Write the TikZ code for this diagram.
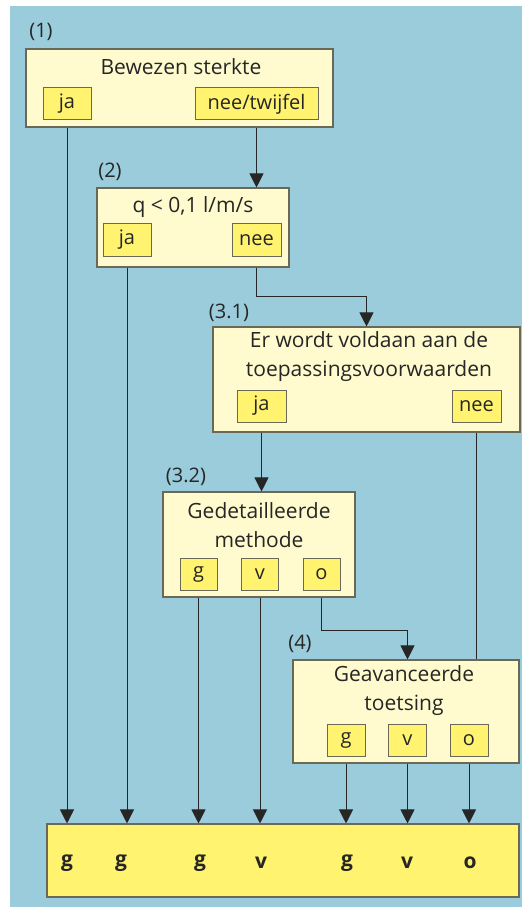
\documentclass[tikz,border=0pt]{standalone}
\usepackage{fontspec}
\setmainfont{Open Sans}
\usetikzlibrary{arrows.meta,calc}
\definecolor{bgblue}{RGB}{154,204,219}
\definecolor{paleyellow}{RGB}{255,251,206}
\definecolor{answeryellow}{RGB}{255,243,112}
\definecolor{framegray}{RGB}{105,105,85}
\definecolor{inkgray}{RGB}{38,38,38}

\begin{document}
\begin{tikzpicture}[x=1pt, y=-1pt,
    stepframe/.style={draw=framegray, line width=1.1pt, fill=paleyellow,
      inner sep=0pt},
    answer/.style={draw=framegray, line width=1pt, fill=answeryellow,
      inner sep=0pt, minimum height=32pt, text=inkgray,
      font=\fontsize{20}{24}\selectfont},
    caption/.style={text=inkgray, align=center, inner sep=0pt,
      font=\fontsize{21}{29}\selectfont},
    numlabel/.style={text=inkgray, inner sep=0pt,
      font=\fontsize{20}{24}\selectfont},
    outcome/.style={text=inkgray, inner sep=0pt,
      font=\fontsize{21}{24}\selectfont\bfseries},
    flow/.style={draw=inkgray, line width=1pt},
    arrowflow/.style={flow, -{Triangle[length=14pt, width=14pt]}}]

  % Background
  \useasboundingbox (0,0) rectangle (522,909);
  \fill[white] (0,0) rectangle (522,909);
  \fill[bgblue] (10,6) rectangle (522,907);

  % Step (1)
  \node[stepframe, minimum width=307pt, minimum height=78pt] (box1) at (179.5,88) {};
  \node[numlabel] (lab1) at (41,32) {(1)};
  \node[caption] (title1) at (181,67) {Bewezen sterkte};
  \node[answer, minimum width=48pt] (ja1) at (67,104) {ja};
  \node[answer, minimum width=123pt] (nee1) at (256.5,104) {nee/twijfel};

  % Step (2)
  \node[stepframe, minimum width=192pt, minimum height=79pt] (box2) at (193,227.5) {};
  \node[numlabel] (lab2) at (110,172) {(2)};
  \node[caption] (title2) at (193,207) {q < 0,1 l/m/s};
  \node[answer, minimum width=48pt] (ja2) at (127,240) {ja};
  \node[answer, minimum width=49pt] (nee2) at (256.5,240) {nee};

  % Step (3.1)
  \node[stepframe, minimum width=307pt, minimum height=105pt] (box31) at (366.5,379.5) {};
  \node[numlabel] (lab31) at (229,313) {(3.1)};
  \node[caption] (title31) at (369,356.5) {Er wordt voldaan aan de\\toepassingsvoorwaarden};
  \node[answer, minimum width=49pt] (ja31) at (261.5,406) {ja};
  \node[answer, minimum width=49pt] (nee31) at (476.5,406) {nee};

  % Step (3.2)
  \node[stepframe, minimum width=192pt, minimum height=105pt] (box32) at (259,544.5) {};
  \node[numlabel] (lab32) at (186,477) {(3.2)};
  \node[caption] (title32) at (259,525) {Gedetailleerde\\methode};
  \node[answer, minimum width=37pt] (g32) at (198.5,574) {g};
  \node[answer, minimum width=37pt] (v32) at (260,574) {v};
  \node[answer, minimum width=37pt] (o32) at (321.5,574) {o};

  % Step (4)
  \node[stepframe, minimum width=226pt, minimum height=103pt] (box4) at (406,711.5) {};
  \node[numlabel] (lab4) at (300,644) {(4)};
  \node[caption] (title4) at (404,691) {Geavanceerde\\toetsing};
  \node[answer, minimum width=38pt] (g4) at (346,740) {g};
  \node[answer, minimum width=38pt] (v4) at (407.5,740) {v};
  \node[answer, minimum width=38pt] (o4) at (469,740) {o};

  % Outcome bar
  \node[draw=framegray, line width=1.1pt, fill=answeryellow, inner sep=0pt,
    minimum width=472pt, minimum height=73pt] (result) at (283,860.5) {};
  \foreach \x/\r [count=\i] in {67/g, 121/g, 200/g, 261/v, 347/g, 407/v, 470/o} {
    \node[outcome] (res\i) at (\x,863) {\r};
  }

  % Connectors between steps
  \draw[arrowflow] (nee1.south |- box1.south) -- (nee1.south |- box2.north);
  \draw[arrowflow] (nee2.south |- box2.south) -- ++(0,29) -| (box31.north);
  \draw[arrowflow] (ja31.south |- box31.south) -- (ja31.south |- box32.north);
  \draw[arrowflow] (o32.south |- box32.south) -- ++(0,33) -| (v4.north |- box4.north);
  \draw[flow] (nee31.south |- box31.south) -- (nee31.south |- box4.north);

  % Connectors into outcome bar
  \draw[arrowflow] (ja1.south |- box1.south) -- (ja1.south |- result.north);
  \draw[arrowflow] (ja2.south |- box2.south) -- (ja2.south |- result.north);
  \foreach \src in {g32, v32} {
    \draw[arrowflow] (\src.south |- box32.south) -- (\src.south |- result.north);
  }
  \foreach \src in {g4, v4, o4} {
    \draw[arrowflow] (\src.south |- box4.south) -- (\src.south |- result.north);
  }
\end{tikzpicture}
\end{document}
